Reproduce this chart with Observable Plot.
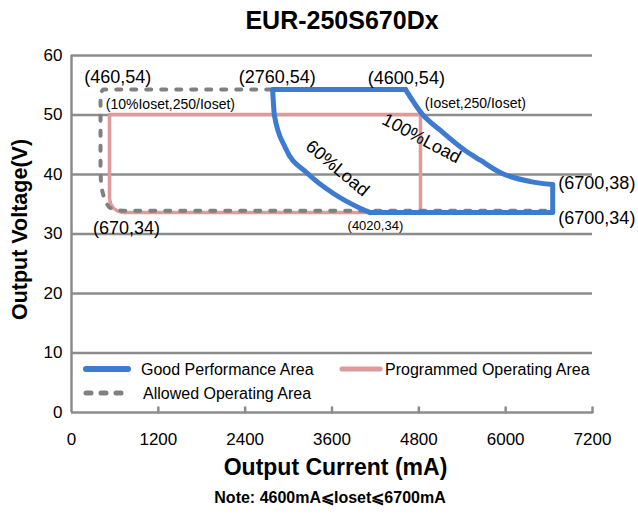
<!DOCTYPE html>
<html><head><meta charset="utf-8">
<script src="https://cdn.jsdelivr.net/npm/d3@7"></script>
<script src="https://cdn.jsdelivr.net/npm/@observablehq/plot@0.6"></script>
<style>
body{margin:0;background:#fff}
#wrap{position:relative;width:638px;height:514px;font-family:"Liberation Sans",Arial,sans-serif}
#legend{position:absolute;left:0;top:0;pointer-events:none}
</style>
</head><body><div id="wrap"></div>
<script>
// ---- axes ----
const xTicks = [0, 1200, 2400, 3600, 4800, 6000, 7200];
const yTicks = [0, 10, 20, 30, 40, 50, 60];

// ---- Good Performance Area (blue) ----
const goodTopI = [2780, 4615];
const goodTopV = [54.3, 54.3];
const load100I = [4615, 4850, 5100, 5445, 5650, 5930, 6345, 6650];
const load100V = [54.3, 50.1, 47.4, 44.0, 42.4, 40.3, 38.8, 38.3];
const goodEdgeI = [6650, 6650, 4130];
const goodEdgeV = [38.3, 33.6, 33.6];
const load60I = [2780, 2805, 2955, 3260, 3620, 3995, 4130];
const load60V = [54.2, 49.9, 44.5, 40.2, 36.8, 34.3, 33.6];

// ---- Programmed Operating Area (pink) ----
const progI = [525, 525, 540, 582, 644, 719, 4823, 4823, 525];
const progV = [50.1, 36.0, 35.1, 34.3, 33.8, 33.6, 33.6, 50.1, 50.1];

// ---- Allowed Operating Area (grey dashed) ----
const allowI = [2760, 440, 412, 401, 401, 406, 420, 445, 475, 520, 580, 700, 6650];
const allowV = [54.3, 54.3, 53.9, 52.9, 41.0, 39.0, 37.5, 36.3, 35.3, 34.5, 34.1, 33.9, 33.9];

// ---- annotation texts and the points they refer to ----
const labelText = ["(460,54)", "(2760,54)", "(4600,54)", "(10%Ioset,250/Ioset)", "(Ioset,250/Ioset)",
  "(6700,38)", "(6700,34)", "(670,34)", "(4020,34)", "100%Load", "60%Load"];
const labelI = [460, 2760, 4600, 460, 4800, 6700, 6700, 670, 4020, 5100, 3260];
const labelV = [54, 54, 54, 50, 50, 38, 34, 34, 34, 47.4, 40.2];

const legendLabels = ["Good Performance Area", "Programmed Operating Area", "Allowed Operating Area"];

const title = "EUR-250S670Dx";
const xLabel = "Output Current (mA)";
const yLabel = "Output Voltage(V)";
const note = "Note: 4600mA⩽Ioset⩽6700mA";

const BLUE = "#3c7bcf", PINK = "#df9a9a", GREY = "#808080", GRID = "#8c8c8c";

const pts = (I, V) => I.map((d, i) => ({I: d, V: V[i]}));
const labels = labelText.map((t, i) => ({text: t, I: labelI[i], V: labelV[i]}));
// text layout: [dx, dy, fontSize, anchor, rotate]
const labelStyle = [
  [13, -14, 18, "middle", 0],
  [6, -14, 18, "middle", 0],
  [2, -13, 18, "middle", 0],
  [1, -10, 14, "start", 0],
  [6, -11, 14, "start", 0],
  [2, -3, 18, "start", 0],
  [2, 8, 18, "start", 0],
  [6.5, 18, 18, "middle", 0],
  [13, 16, 13, "middle", 0],
  [-19, 8, 18, "middle", 28],
  [30, -5, 18, "middle", 40]
];

const lineOpts = (color, w, extra = {}) => ({x: "I", y: "V", stroke: color, strokeWidth: w,
  strokeLinecap: "round", strokeLinejoin: "round", ...extra});

const plot = Plot.plot({
  width: 638, height: 514,
  marginLeft: 71, marginRight: 46, marginTop: 55, marginBottom: 102,
  style: {fontFamily: "Liberation Sans, Arial, sans-serif", background: "#fff", color: "#000", overflow: "visible"},
  x: {domain: [0, 7200]},
  y: {domain: [0, 60]},
  marks: [
    Plot.ruleY(yTicks.filter(d => d > 0), {stroke: GRID, strokeWidth: 2.5}),
    Plot.ruleY([0], {stroke: GRID, strokeWidth: 2.5}),
    Plot.ruleX([0], {stroke: GRID, strokeWidth: 2.5}),
    Plot.vector(xTicks.slice(1), {x: d => d, frameAnchor: "bottom", length: 5, rotate: 0, anchor: "start",
      shape: {draw(c, l) { c.moveTo(0, 0); c.lineTo(0, -l); }}, stroke: GRID, strokeWidth: 2.5}),
    Plot.axisX({ticks: xTicks, tickSize: 0, tickPadding: 20, fontSize: 17, label: null, tickFormat: d => String(d)}),
    Plot.axisY({ticks: yTicks, tickSize: 0, tickPadding: 9, fontSize: 17, label: null}),

    Plot.line(pts(progI, progV), lineOpts(PINK, 3.5)),
    Plot.line(pts(allowI, allowV), lineOpts(GREY, 4, {strokeDasharray: "5,10"})),
    Plot.line(pts(goodTopI, goodTopV), lineOpts(BLUE, 5)),
    Plot.line(pts(load100I, load100V), lineOpts(BLUE, 5, {curve: "monotone-x"})),
    Plot.line(pts(goodEdgeI, goodEdgeV), lineOpts(BLUE, 5)),
    Plot.line(pts(load60I, load60V), lineOpts(BLUE, 5, {curve: "monotone-x"})),

    ...labels.map((l, i) => Plot.text([l], {x: "I", y: "V", text: "text",
      dx: labelStyle[i][0], dy: labelStyle[i][1], fontSize: labelStyle[i][2],
      textAnchor: labelStyle[i][3], rotate: labelStyle[i][4], fill: "#000"})),

    Plot.text([title], {frameAnchor: "top", textAnchor: "middle", lineAnchor: "middle", dx: 10, dy: -35,
      fontSize: 25, fontWeight: "bold", fill: "#000"}),
    Plot.text([xLabel], {frameAnchor: "bottom", textAnchor: "middle", lineAnchor: "middle", dx: 3.5, dy: 55,
      fontSize: 23, fontWeight: "bold", fill: "#000"}),
    Plot.text([note], {frameAnchor: "bottom", textAnchor: "middle", lineAnchor: "middle", dx: -2, dy: 85,
      fontSize: 16, fontWeight: "bold", fill: "#000"}),
    Plot.text([yLabel], {frameAnchor: "left", textAnchor: "middle", lineAnchor: "middle", dx: -51, dy: -4.5,
      rotate: -90, fontSize: 21.5, fontWeight: "bold", fill: "#000"})
  ]
});
const wrap = document.getElementById("wrap");
wrap.appendChild(plot);

// ---- legend overlay ----
const lg = d3.select(wrap).append("svg").attr("id", "legend").attr("width", 638).attr("height", 514)
  .style("font-family", "Liberation Sans, Arial, sans-serif");
const legendItems = [
  {label: legendLabels[0], color: BLUE, dash: null, w: 6, x1: 86, x2: 128, y: 369, tx: 141},
  {label: legendLabels[1], color: PINK, dash: null, w: 5, x1: 342, x2: 380, y: 369, tx: 385},
  {label: legendLabels[2], color: GREY, dash: "5,10", w: 5, x1: 86, x2: 128, y: 393, tx: 143}
];
for (const it of legendItems) {
  lg.append("line").attr("x1", it.x1).attr("x2", it.x2).attr("y1", it.y).attr("y2", it.y)
    .attr("stroke", it.color).attr("stroke-width", it.w).attr("stroke-linecap", "round")
    .attr("stroke-dasharray", it.dash);
  lg.append("text").attr("x", it.tx).attr("y", it.y).attr("dy", "0.35em")
    .attr("font-size", 16).attr("fill", "#000").text(it.label);
}
</script>
</body></html>
